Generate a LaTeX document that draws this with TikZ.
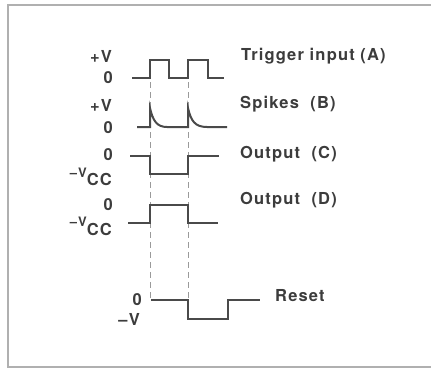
\documentclass[tikz,border=0pt]{standalone}
\usepackage{fontspec}
\newfontfamily\lblfont[LetterSpace=7]{TeX Gyre Heros}
\definecolor{ink}{HTML}{3C3C3C}
\definecolor{tracec}{HTML}{4A4A4A}
\definecolor{dashc}{HTML}{9A9A9A}
\definecolor{framec}{HTML}{B0B0B0}
\tikzset{
  trace/.style={draw=tracec, line width=2pt, line join=miter},
  guide/.style={draw=dashc, line width=0.9pt, dash pattern=on 6pt off 4pt},
  lbl/.style={font=\lblfont\bfseries\fontsize{16.5}{18}\selectfont, text=ink, inner sep=0pt},
  lbls/.style={font=\lblfont\bfseries\fontsize{13}{15}\selectfont, text=ink, inner sep=0pt},
}
\begin{document}
\begin{tikzpicture}[x=1pt,y=-1pt]
\useasboundingbox (0,0) rectangle (431,369);
% frame
\draw[framec, line width=1.4pt] (440,5) -- (8,5) -- (8,367) -- (440,367);
% guides
\coordinate (g1t) at (150,82); \coordinate (g1b) at (150,298);
\coordinate (g2t) at (188,82); \coordinate (g2b) at (188,298);
\draw[guide] (g1t) -- (g1b);
\draw[guide] (g2t) -- (g2b);
% traces
\draw[trace] (132,78) -- (150,78) -- (150,60) -- (169,60) -- (169,78) -- (188,78) -- (188,60) -- (208,60) -- (208,78) -- (224,78);
\draw[trace] (137,127) -- (150,127) -- (150,108) .. controls (153,121) and (157,127) .. (167,127) -- (188,127) -- (188,108) .. controls (191,121) and (195,127) .. (207,127) -- (227,127);
\draw[trace] (130,156) -- (150,156) -- (150,174) -- (188,174) -- (188,156) -- (219,156);
\draw[trace] (128,223) -- (150,223) -- (150,205) -- (188,205) -- (188,223) -- (218,223);
\draw[trace] (151,300) -- (188,300) -- (188,319) -- (228,319) -- (228,300) -- (260,300);
% right labels
\node[lbl, anchor=base west] (la) at (241,60) {Trigger input (A)};
\node[lbl, anchor=base west] (lb) at (240,108) {Spikes\ \ (B)};
\node[lbl, anchor=base west] (lc) at (240,158) {Output\ \ (C)};
\node[lbl, anchor=base west] (ld) at (240,204) {Output\ \ (D)};
\node[lbl, anchor=base west] (lr) at (275,301) {Reset};
% left labels
\node[lbl, anchor=base east] (av) at (112,63) {+V};
\node[lbl, anchor=base east] (a0) at (113,84) {0};
\node[lbl, anchor=base east] (bv) at (112,111) {+V};
\node[lbl, anchor=base east] (b0) at (113,133) {0};
\node[lbl, anchor=base east] (c0) at (113,160) {0};
\node[lbl, anchor=base east] (ccc) at (112,185) {CC};
\node[lbls, anchor=base east] (cv) at (87,177) {–V};
\node[lbl, anchor=base east] (d0) at (113,210) {0};
\node[lbl, anchor=base east] (dcc) at (112,235) {CC};
\node[lbls, anchor=base east] (dv) at (87,226) {–V};
\node[lbl, anchor=base east] (r0) at (142,305) {0};
\node[lbl, anchor=base east] (rv) at (140,325) {–V};
\end{tikzpicture}
\end{document}
